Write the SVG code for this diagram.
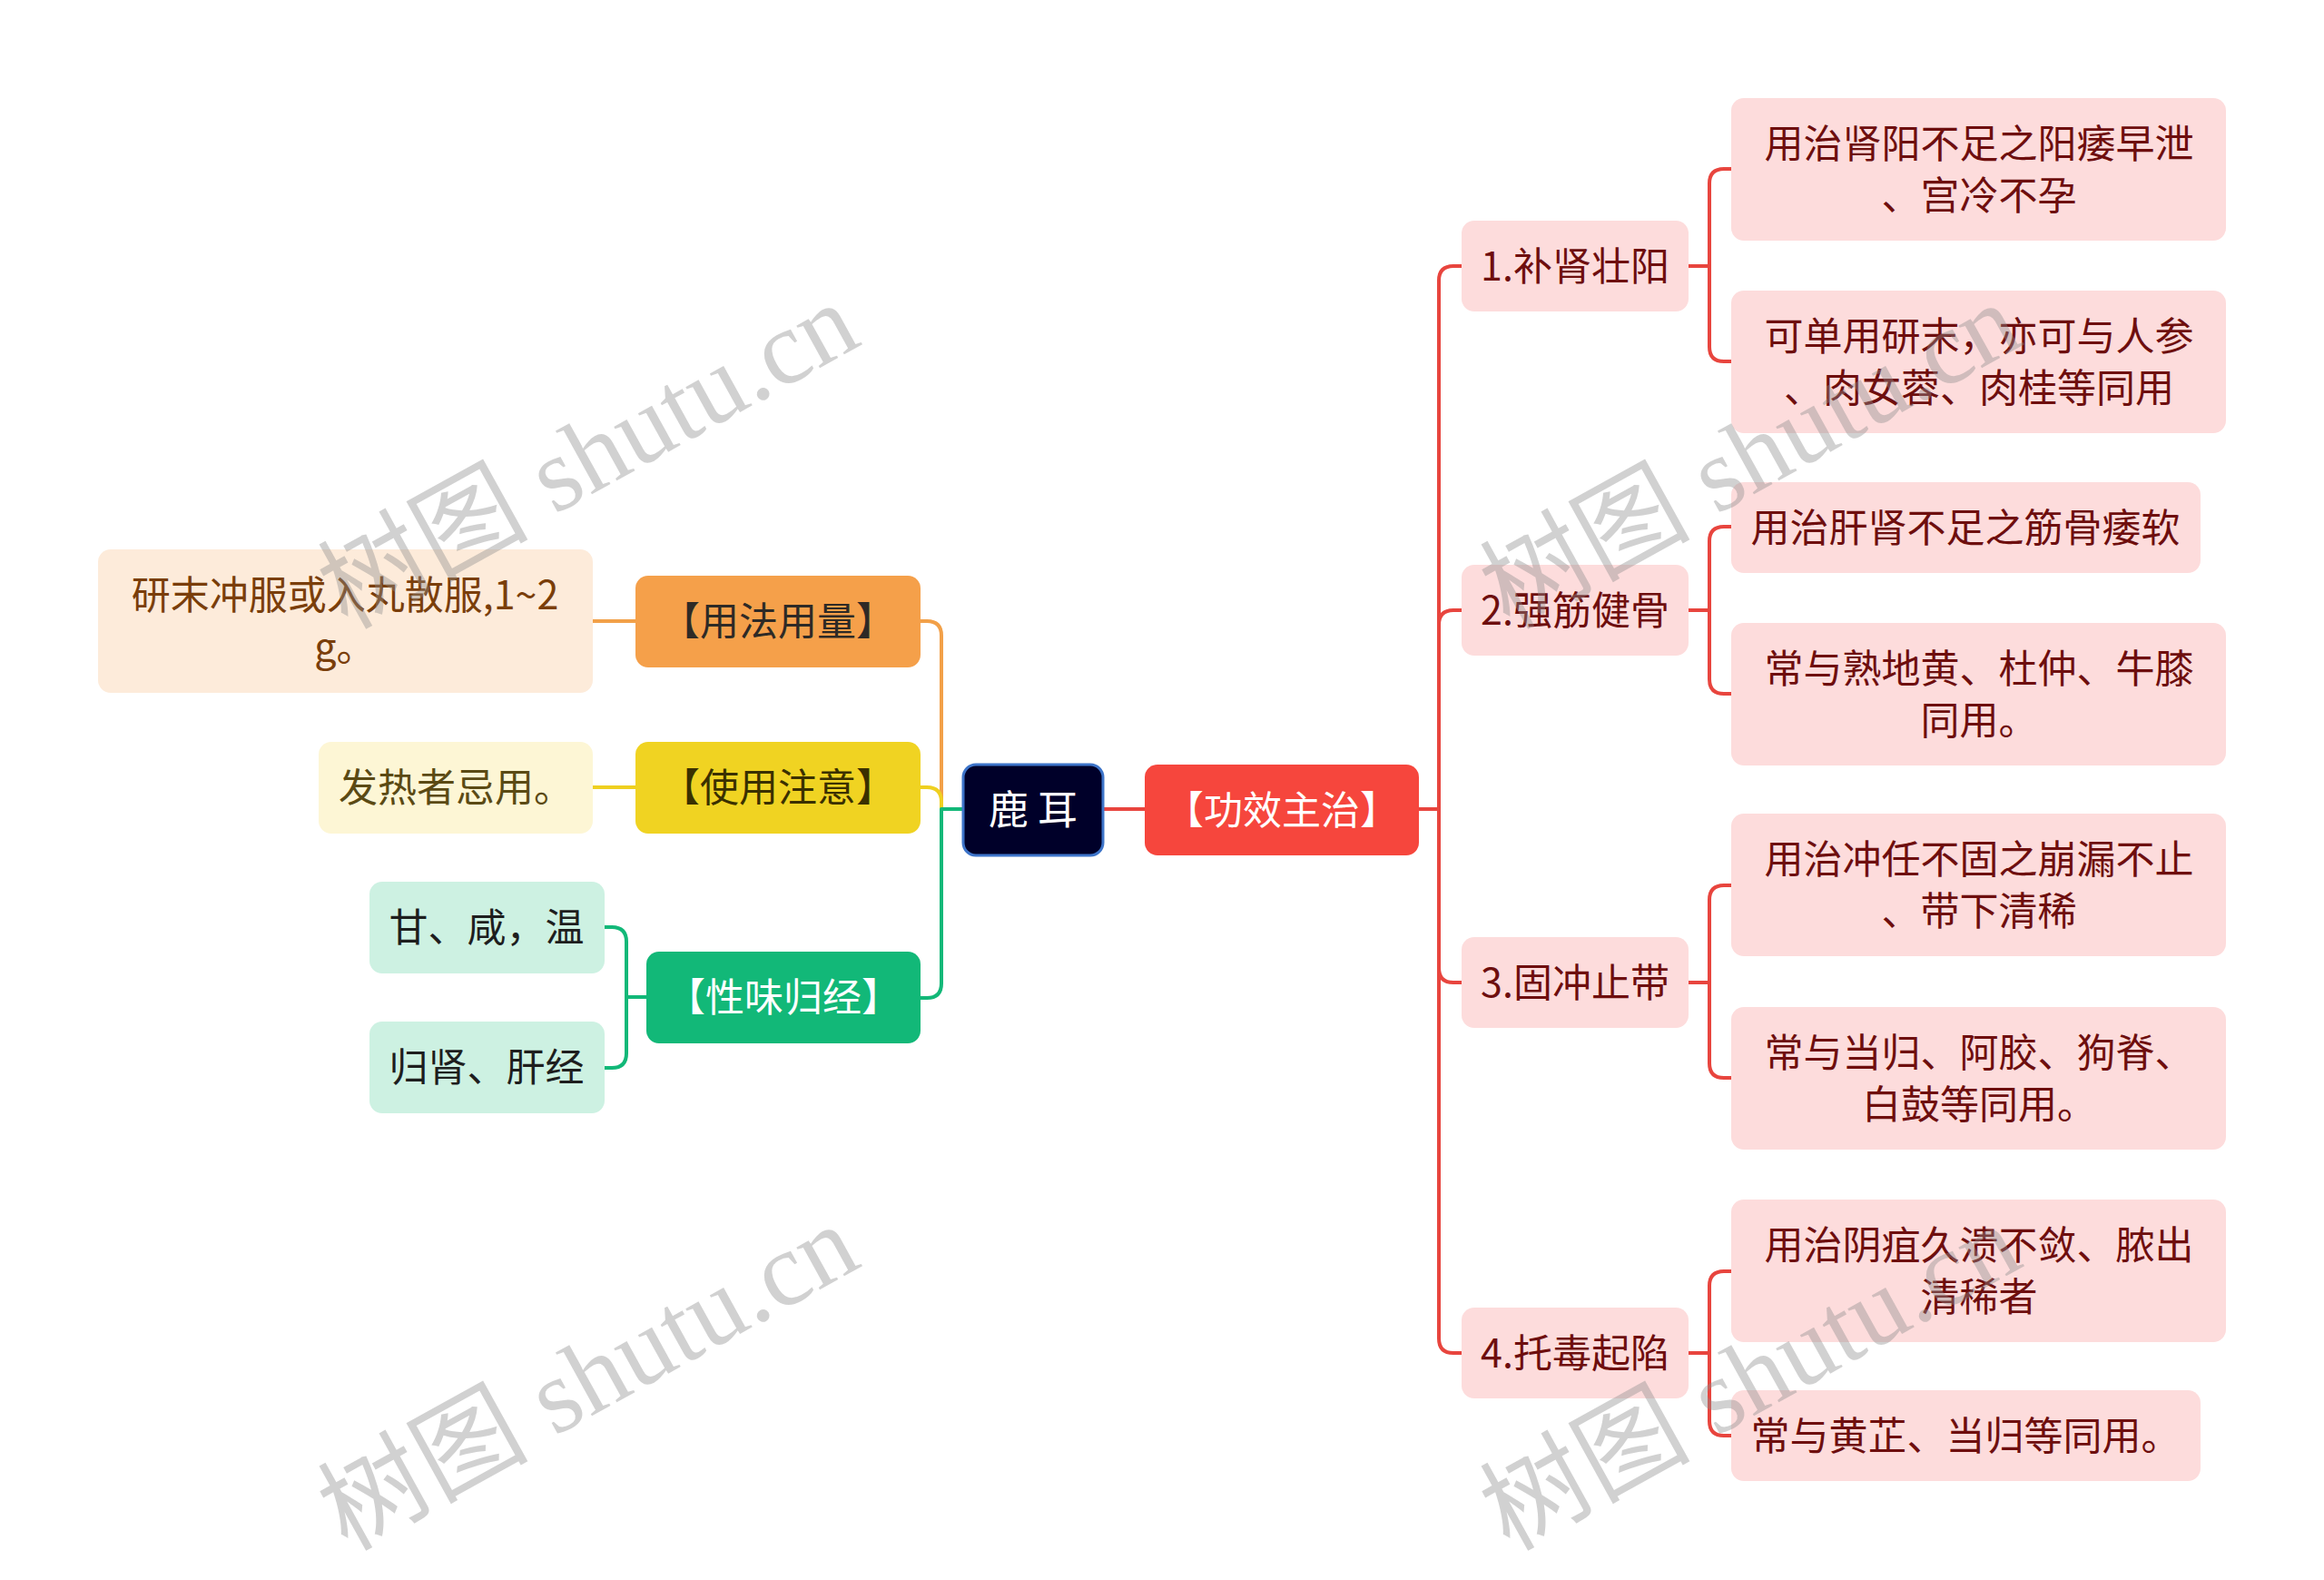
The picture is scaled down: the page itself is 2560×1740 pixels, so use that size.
<svg xmlns="http://www.w3.org/2000/svg" width="2560" height="1740" viewBox="0 0 2560 1740">
<style>
.t{font-family:"Noto Sans CJK SC","Noto Sans",sans-serif;font-size:43px;text-anchor:middle;dominant-baseline:central;}
.c{fill:none;stroke-width:4;stroke-linecap:butt;stroke-linejoin:round;}
.red{stroke:#e8453e;}
.or{stroke:#f2a048;}
.ye{stroke:#efd020;}
.gr{stroke:#12b878;}
.pk{fill:#fddcdc;}
.dr{fill:#6e0e0e;}
.wm{font-family:"Liberation Serif","Noto Sans CJK SC",serif;font-size:116px;fill:#8c8c8c;fill-opacity:0.40;text-anchor:middle;dominant-baseline:central;}
</style>
<rect width="2560" height="1740" fill="#ffffff"/>
<g id="connectors">
<path class="c red" d="M1215,891 H1261"/>
<path class="c red" d="M1563,891 H1585 V309 Q1585,293 1601,293 H1610"/>
<path class="c red" d="M1563,891 H1585 V688 Q1585,672 1601,672 H1610"/>
<path class="c red" d="M1563,891 H1585 V1066 Q1585,1082 1601,1082 H1610"/>
<path class="c red" d="M1563,891 H1585 V1474 Q1585,1490 1601,1490 H1610"/>
<path class="c red" d="M1860,293 H1883 V202 Q1883,186 1899,186 H1907"/>
<path class="c red" d="M1860,293 H1883 V382 Q1883,398 1899,398 H1907"/>
<path class="c red" d="M1860,672 H1883 V596 Q1883,580 1899,580 H1907"/>
<path class="c red" d="M1860,672 H1883 V748 Q1883,764 1899,764 H1907"/>
<path class="c red" d="M1860,1082 H1883 V991 Q1883,975 1899,975 H1907"/>
<path class="c red" d="M1860,1082 H1883 V1171 Q1883,1187 1899,1187 H1907"/>
<path class="c red" d="M1860,1490 H1883 V1416 Q1883,1400 1899,1400 H1907"/>
<path class="c red" d="M1860,1490 H1883 V1565 Q1883,1581 1899,1581 H1907"/>
<path class="c or" d="M1061,891 H1037 V700 Q1037,684 1021,684 H1014"/>
<path class="c ye" d="M1061,891 H1037 V883 Q1037,867 1021,867 H1014"/>
<path class="c gr" d="M1061,891 H1037 V1083 Q1037,1099 1021,1099 H1014"/>
<path class="c or" d="M700,684 H653"/>
<path class="c ye" d="M700,867 H653"/>
<path class="c gr" d="M712,1098 H690 V1037 Q690,1021 674,1021 H666"/>
<path class="c gr" d="M712,1098 H690 V1160 Q690,1176 674,1176 H666"/>
</g>
<g id="root">
<rect x="1061" y="842" width="154" height="100" rx="14" fill="#000029" stroke="#3d74c9" stroke-width="3"/>
<text class="t" x="1138" y="889" fill="#ffffff" style="font-size:44px">鹿 耳</text>
</g>
<g id="gongxiao">
<rect x="1261" y="842" width="302" height="100" rx="14" fill="#f6463d"/>
<text class="t" x="1412" y="889" fill="#ffffff">【功效主治】</text>
</g>
<g id="n1">
<rect class="pk" x="1610" y="243" width="250" height="100" rx="14"/>
<text class="t dr" x="1735" y="290">1.补肾壮阳</text>
</g>
<g id="n2">
<rect class="pk" x="1610" y="622" width="250" height="100" rx="14"/>
<text class="t dr" x="1735" y="669">2.强筋健骨</text>
</g>
<g id="n3">
<rect class="pk" x="1610" y="1032" width="250" height="100" rx="14"/>
<text class="t dr" x="1735" y="1079">3.固冲止带</text>
</g>
<g id="n4">
<rect class="pk" x="1610" y="1440" width="250" height="100" rx="14"/>
<text class="t dr" x="1735" y="1487">4.托毒起陷</text>
</g>
<g id="l1a">
<rect class="pk" x="1907" y="108" width="545" height="157" rx="14"/>
<text class="t dr" x="2180" y="155">用治肾阳不足之阳痿早泄</text>
<text class="t dr" x="2180" y="212">、宫冷不孕</text>
</g>
<g id="l1b">
<rect class="pk" x="1907" y="320" width="545" height="157" rx="14"/>
<text class="t dr" x="2180" y="367">可单用研末，亦可与人参</text>
<text class="t dr" x="2180" y="424">、肉女蓉、肉桂等同用</text>
</g>
<g id="l2a">
<rect class="pk" x="1907" y="531" width="517" height="100" rx="14"/>
<text class="t dr" x="2165" y="578">用治肝肾不足之筋骨痿软</text>
</g>
<g id="l2b">
<rect class="pk" x="1907" y="686" width="545" height="157" rx="14"/>
<text class="t dr" x="2180" y="733">常与熟地黄、杜仲、牛膝</text>
<text class="t dr" x="2180" y="790">同用。</text>
</g>
<g id="l3a">
<rect class="pk" x="1907" y="896" width="545" height="157" rx="14"/>
<text class="t dr" x="2180" y="943">用治冲任不固之崩漏不止</text>
<text class="t dr" x="2180" y="1000">、带下清稀</text>
</g>
<g id="l3b">
<rect class="pk" x="1907" y="1109" width="545" height="157" rx="14"/>
<text class="t dr" x="2180" y="1156">常与当归、阿胶、狗脊、</text>
<text class="t dr" x="2180" y="1213">白鼓等同用。</text>
</g>
<g id="l4a">
<rect class="pk" x="1907" y="1321" width="545" height="157" rx="14"/>
<text class="t dr" x="2180" y="1368">用治阴疽久溃不敛、脓出</text>
<text class="t dr" x="2180" y="1425">清稀者</text>
</g>
<g id="l4b">
<rect class="pk" x="1907" y="1531" width="517" height="100" rx="14"/>
<text class="t dr" x="2165" y="1578">常与黄芷、当归等同用。</text>
</g>
<g id="yongfa">
<rect x="700" y="634" width="314" height="101" rx="14" fill="#f5a04a"/>
<text class="t" x="857" y="681" fill="#2e2a26">【用法用量】</text>
</g>
<g id="zhuyi">
<rect x="700" y="817" width="314" height="101" rx="14" fill="#f0d322"/>
<text class="t" x="857" y="864" fill="#3a3000">【使用注意】</text>
</g>
<g id="xingwei">
<rect x="712" y="1048" width="302" height="101" rx="14" fill="#12b878"/>
<text class="t" x="863" y="1095" fill="#ffffff">【性味归经】</text>
</g>
<g id="yanmo">
<rect x="108" y="605" width="545" height="158" rx="14" fill="#fdebda"/>
<text class="t" x="380" y="652" fill="#7a3e0a">研末冲服或入丸散服,1~2</text>
<text class="t" x="380" y="709" fill="#7a3e0a">g。</text>
</g>
<g id="fare">
<rect x="351" y="817" width="302" height="101" rx="14" fill="#fdf6d5"/>
<text class="t" x="502" y="864" fill="#5b4a14">发热者忌用。</text>
</g>
<g id="ganxian">
<rect x="407" y="971" width="259" height="101" rx="14" fill="#cdf1e2"/>
<text class="t" x="536" y="1018" fill="#1e1e1e">甘、咸，温</text>
</g>
<g id="guishen">
<rect x="407" y="1125" width="259" height="101" rx="14" fill="#cdf1e2"/>
<text class="t" x="536" y="1172" fill="#1e1e1e">归肾、肝经</text>
</g>
<g id="watermarks">
<text class="wm" x="648" y="502" transform="rotate(-29 648 502)">树图 shutu.cn</text>
<text class="wm" x="648" y="1517" transform="rotate(-29 648 1517)">树图 shutu.cn</text>
<text class="wm" x="1928" y="502" transform="rotate(-29 1928 502)">树图 shutu.cn</text>
<text class="wm" x="1928" y="1517" transform="rotate(-29 1928 1517)">树图 shutu.cn</text>
</g>
</svg>
